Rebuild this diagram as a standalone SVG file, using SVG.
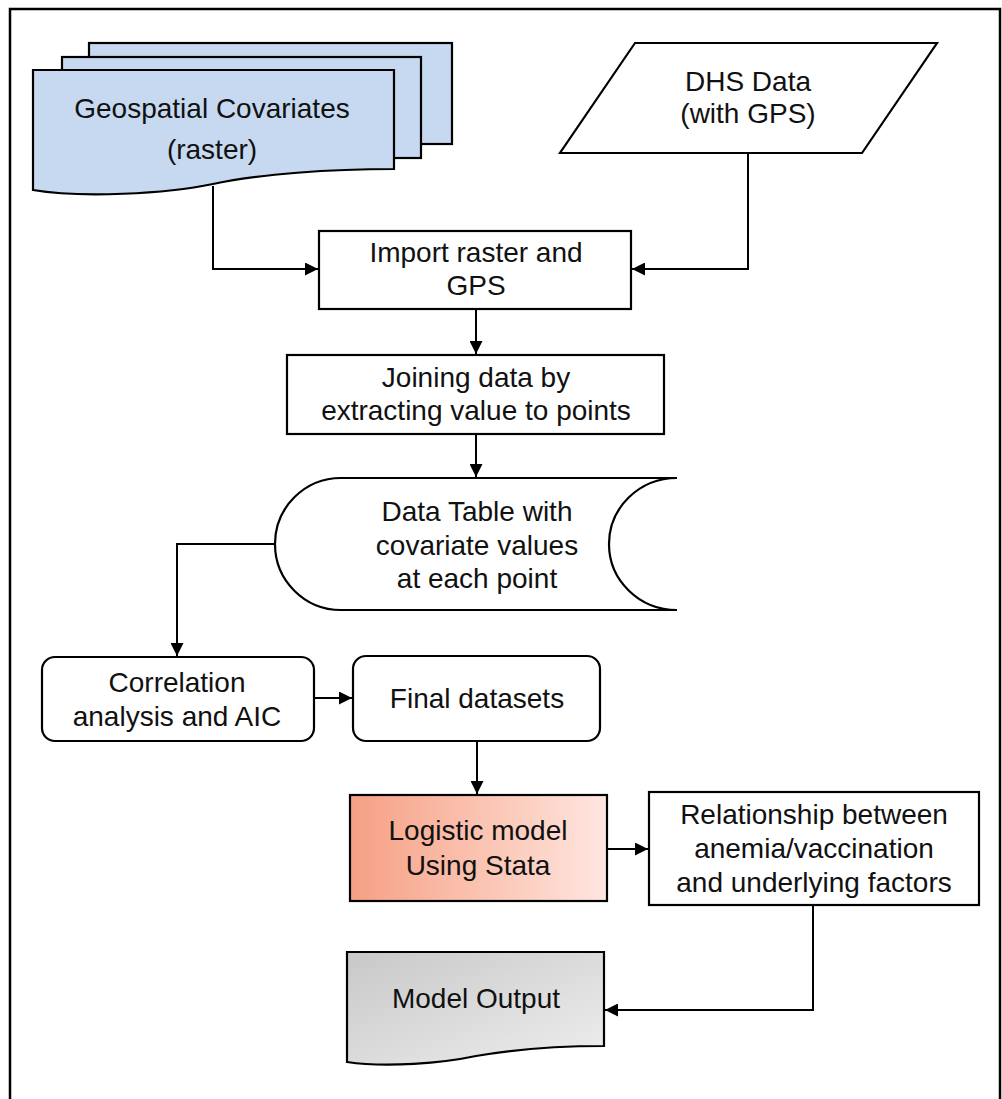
<svg xmlns="http://www.w3.org/2000/svg" width="1002" height="1099" viewBox="0 0 1002 1099">
  <defs>
    <marker id="arr" markerWidth="13" markerHeight="13" refX="13" refY="6.5" orient="auto" markerUnits="userSpaceOnUse">
      <path d="M0,0 L13,6.5 L0,13 Z" fill="#000"/>
    </marker>
    <linearGradient id="salmon" x1="0" y1="0" x2="1" y2="0">
      <stop offset="0" stop-color="#F6A083"/>
      <stop offset="1" stop-color="#FFE6E0"/>
    </linearGradient>
    <linearGradient id="gray" x1="0" y1="0" x2="1" y2="1">
      <stop offset="0" stop-color="#C8C8C8"/>
      <stop offset="1" stop-color="#EEEEEE"/>
    </linearGradient>
  </defs>
  <style>
    .shape { stroke: #000; stroke-width: 2.2; fill: #fff; }
    .blue { fill: #C6D9F0; }
    .conn { stroke: #000; stroke-width: 2; fill: none; }
    text { font-family: "Liberation Sans", Arial, sans-serif; font-size: 28px; fill: #111; text-anchor: middle; }
  </style>
  <rect x="0" y="0" width="1002" height="1099" fill="#fff"/>
  <rect x="10" y="9" width="990" height="1110" fill="none" stroke="#000" stroke-width="2.5"/>

  <g id="geospatial">
    <rect class="shape blue" x="89" y="43" width="363" height="101"/>
    <rect class="shape blue" x="62" y="57" width="359" height="101"/>
    <path class="shape blue" d="M33,70 H394 V169 C330,169 260,174 213,184 C166,194 80,198 33,190 Z"/>
    <text x="212" y="118">Geospatial Covariates</text>
    <text x="212" y="159">(raster)</text>
  </g>

  <g id="dhs">
    <path class="shape" d="M635,43 H937 L862,153 H560 Z"/>
    <text x="748" y="91">DHS Data</text>
    <text x="748" y="123">(with GPS)</text>
  </g>

  <g id="import">
    <rect class="shape" x="319" y="231" width="312" height="78"/>
    <text x="476" y="262">Import raster and</text>
    <text x="476" y="295">GPS</text>
  </g>

  <g id="joining">
    <rect class="shape" x="287" y="355" width="377" height="79"/>
    <text x="476" y="387">Joining data by</text>
    <text x="476" y="420">extracting value to points</text>
  </g>

  <g id="datatable">
    <path class="shape" d="M341,478 H677 A68,66 0 0 0 677,610 H341 A66,66 0 0 1 341,478 Z"/>
    <text x="477" y="521">Data Table with</text>
    <text x="477" y="555">covariate values</text>
    <text x="477" y="588">at each point</text>
  </g>

  <g id="correlation">
    <rect class="shape" x="42" y="657" width="272" height="84" rx="13"/>
    <text x="177" y="692">Correlation</text>
    <text x="177" y="726">analysis and AIC</text>
  </g>

  <g id="final">
    <rect class="shape" x="353" y="656" width="247" height="85" rx="13"/>
    <text x="477" y="708">Final datasets</text>
  </g>

  <g id="logistic">
    <rect class="shape" x="350" y="795" width="257" height="106" fill="url(#salmon)" style="fill:url(#salmon)"/>
    <text x="478" y="840">Logistic model</text>
    <text x="478" y="875">Using Stata</text>
  </g>

  <g id="relationship">
    <rect class="shape" x="649" y="792" width="330" height="113"/>
    <text x="814" y="824">Relationship between</text>
    <text x="814" y="858">anemia/vaccination</text>
    <text x="814" y="892">and underlying factors</text>
  </g>

  <g id="output">
    <path class="shape" style="fill:url(#gray)" d="M347,952 H604 V1046 C559,1046 510,1050 476,1056 C443,1063 386,1068 347,1062 Z"/>
    <text x="476" y="1008">Model Output</text>
  </g>

  <g id="connectors">
    <path class="conn" d="M213,186 V269 H318" marker-end="url(#arr)"/>
    <path class="conn" d="M748,153 V269 H632" marker-end="url(#arr)"/>
    <path class="conn" d="M476,309 V354" marker-end="url(#arr)"/>
    <path class="conn" d="M476,434 V477" marker-end="url(#arr)"/>
    <path class="conn" d="M276,544 H177 V656" marker-end="url(#arr)"/>
    <path class="conn" d="M314,698 H352" marker-end="url(#arr)"/>
    <path class="conn" d="M477,741 V794" marker-end="url(#arr)"/>
    <path class="conn" d="M607,849 H648" marker-end="url(#arr)"/>
    <path class="conn" d="M813,905 V1010 H605" marker-end="url(#arr)"/>
  </g>
</svg>
